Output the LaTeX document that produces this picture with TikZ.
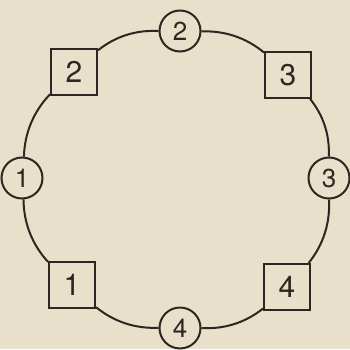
\documentclass[tikz,border=0pt]{standalone}
\usepackage{fontspec}
\setmainfont{TeX Gyre Heros}
\definecolor{bgc}{RGB}{233,224,203}
\definecolor{ink}{RGB}{45,38,33}
\begin{document}
\begin{tikzpicture}[x=1pt,y=1pt,
  sq/.style={draw=ink,line width=2pt,fill=bgc,minimum size=46pt,inner sep=0pt,font=\fontsize{30}{30}\selectfont,text=ink},
  rd/.style={draw=ink,line width=2pt,fill=bgc,circle,minimum size=41pt,inner sep=0pt,font=\fontsize{26}{26}\selectfont,text=ink},
  arcl/.style={draw=ink,line width=2pt,bend left=21,looseness=0.9}]
\fill[bgc] (0,0) rectangle (350,349);
\useasboundingbox (0,0) rectangle (350,349);
\node[rd] (c1) at (22,171) {1};
\node[rd] (c2) at (180,318) {2};
\node[rd] (c3) at (329,171) {3};
\node[rd] (c4) at (180,21) {4};
\node[sq] (s2) at (74,277) {2};
\node[sq] (s3) at (288,274) {3};
\node[sq] (s1) at (72,64) {1};
\node[sq] (s4) at (287,62) {4};
\draw[arcl] (c1) to (s2);
\draw[arcl] (s2) to (c2);
\draw[arcl] (c2) to (s3);
\draw[arcl] (s3) to (c3);
\draw[arcl] (c3) to (s4);
\draw[arcl] (s4) to (c4);
\draw[arcl] (c4) to (s1);
\draw[arcl] (s1) to (c1);
\end{tikzpicture}
\end{document}
